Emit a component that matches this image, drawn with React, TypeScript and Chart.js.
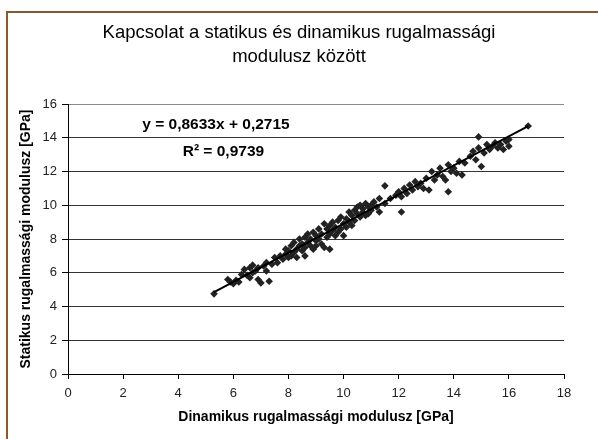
import React, { useEffect, useRef } from "react";
import { Chart, registerables } from "chart.js";

Chart.register(...registerables);

const TITLE_LINES = ["Kapcsolat a statikus és dinamikus rugalmassági", "modulusz között"];
const X_TITLE = "Dinamikus rugalmassági modulusz [GPa]";
const Y_TITLE = "Statikus rugalmassági modulusz [GPa]";
const EQ_TEXT = "y = 0,8633x + 0,2715";
const R2_TEXT = "R² = 0,9739";
const SLOPE = 0.8633;
const INTERCEPT = 0.2715;
const TREND_X = [5.3, 16.7];

const dynX = [
  5.3, 5.8, 5.9, 6.0, 6.1, 6.2, 6.3, 6.4, 6.5, 6.6, 6.6, 6.7, 6.7, 6.8, 6.9, 6.9, 7.0, 7.1, 7.2, 7.2, 7.3, 7.4, 7.5,
  7.6, 7.7, 7.8, 7.9, 7.9, 8.0, 8.0, 8.1, 8.1, 8.2, 8.2, 8.3, 8.3, 8.4, 8.4, 8.5, 8.5, 8.6, 8.6, 8.6, 8.7, 8.7, 8.8, 8.8, 8.9, 8.9, 9.0, 9.0, 9.0, 9.1, 9.1, 9.2, 9.2, 9.3, 9.3, 9.4, 9.4, 9.5, 9.5, 9.5,
  9.6, 9.6, 9.7, 9.7, 9.8, 9.8, 9.9, 9.9, 10.0, 10.0, 10.1, 10.1, 10.2, 10.2, 10.3, 10.3, 10.4, 10.4, 10.5, 10.5, 10.6, 10.6, 10.7, 10.7, 10.8, 10.8, 10.9, 10.9, 11.0, 11.0, 11.1, 11.2, 11.3, 11.3, 11.5,
  11.5, 11.7, 11.9, 12.0, 12.1, 12.1, 12.2, 12.3, 12.4, 12.5, 12.6, 12.7, 12.8, 12.9, 13.0, 13.1, 13.2, 13.3, 13.4, 13.5, 13.6, 13.7, 13.8, 13.8, 13.9, 14.0, 14.1, 14.2, 14.3, 14.4,
  14.6, 14.7, 14.8, 14.9, 14.9, 15.0, 15.1, 15.2, 15.3, 15.4, 15.5, 15.6, 15.7, 15.8, 15.9, 16.0, 16.0, 16.7,
];

const statY = [
  4.75, 5.6, 5.45, 5.35, 5.55, 5.45, 5.9, 6.2, 5.85, 6.3, 5.7, 6.0, 6.45, 6.1, 5.6, 6.3, 5.4, 6.4, 6.1, 6.6, 5.5, 6.5, 6.9,
  6.6, 7.0, 6.8, 7.1, 7.4, 6.9, 7.3, 7.6, 7.0, 7.2, 7.8, 7.4, 6.9, 7.6, 8.0, 7.3, 7.7, 7.5, 8.1, 7.0, 7.8, 8.3, 7.6, 8.0, 7.4, 8.4, 7.9, 8.2, 7.6, 8.6, 8.0, 7.7, 8.3, 8.9, 7.5, 8.1, 8.6, 7.4, 8.8, 8.3,
  8.5, 9.0, 8.2, 8.7, 9.1, 8.4, 8.6, 9.3, 8.9, 8.2, 9.2, 8.7, 9.0, 9.6, 8.8, 9.4, 9.7, 9.1, 9.5, 9.9, 9.3, 10.0, 9.6, 9.8, 10.1, 9.4, 9.9, 9.5, 10.0, 9.7, 10.2, 9.9, 9.6, 10.4, 10.1,
  11.15, 10.4, 10.6, 10.8, 10.5, 9.6, 11.0, 10.7, 11.2, 10.9, 11.4, 11.1, 11.3, 11.0, 11.6, 10.9, 12.0, 11.5, 11.8, 12.2, 11.7, 11.5, 12.4, 10.8, 12.0, 12.2, 11.9, 12.6, 11.8, 12.5,
  12.9, 13.2, 12.7, 13.4, 14.05, 12.3, 13.1, 13.6, 13.3, 13.5, 13.7, 13.4, 13.6, 13.3, 13.8, 13.5, 13.9, 14.7,
];

const X_TICKS = [0, 2, 4, 6, 8, 10, 12, 14, 16, 18];
const Y_TICKS = [0, 2, 4, 6, 8, 10, 12, 14, 16];

const FONT = "'Liberation Sans', Arial, Helvetica, sans-serif";

export default function App() {
  const ref = useRef<HTMLCanvasElement | null>(null);

  useEffect(() => {
    const canvas = ref.current;
    if (!canvas) return;

    const points = dynX.map((x, i) => ({ x, y: statY[i] }));
    const trend = TREND_X.map((x) => ({ x, y: SLOPE * x + INTERCEPT }));

    const equationPlugin = {
      id: "equation",
      afterDraw(chart: any) {
        const { ctx, scales } = chart;
        const sx = scales.x;
        const sy = scales.y;
        ctx.save();
        ctx.fillStyle = "#000";
        ctx.font = `bold 15.5px ${FONT}`;
        ctx.textAlign = "center";
        ctx.textBaseline = "middle";
        ctx.fillText(EQ_TEXT, sx.getPixelForValue(5.37), sy.getPixelForValue(14.76));
        ctx.fillText(R2_TEXT, sx.getPixelForValue(5.64), sy.getPixelForValue(13.16));
        ctx.restore();
      },
    };

    const chart = new Chart(canvas, {
      type: "scatter",
      data: {
        datasets: [
          {
            label: "trend",
            data: trend,
            showLine: true,
            borderColor: "#000",
            borderWidth: 2,
            pointRadius: 0,
            fill: false,
          },
          {
            label: "data",
            data: points,
            pointStyle: "rectRot",
            pointRadius: 3.8,
            backgroundColor: "#222",
            borderColor: "#222",
            borderWidth: 0,
            showLine: false,
          },
        ],
      },
      options: {
        animation: false,
        responsive: false,
        devicePixelRatio: 1,
        layout: { padding: 0 },
        plugins: {
          legend: { display: false },
          tooltip: { enabled: false },
          title: {
            display: true,
            text: TITLE_LINES,
            color: "#000",
            font: { family: FONT, size: 18.5, weight: "normal", lineHeight: "24px" },
            padding: { top: 21, bottom: 35 },
          },
        },
        scales: {
          x: {
            type: "linear",
            min: 0,
            max: 18,
            afterFit(scale: any) {
              scale.height = 65;
            },
            afterBuildTicks(scale: any) {
              scale.ticks = X_TICKS.map((v) => ({ value: v }));
            },
            grid: {
              drawOnChartArea: false,
              drawTicks: true,
              tickLength: 5,
              tickColor: "#000",
            },
            border: { display: true, color: "#000", width: 1 },
            ticks: {
              color: "#222",
              font: { family: FONT, size: 13 },
              padding: 7,
              maxRotation: 0,
            },
            title: {
              display: true,
              text: X_TITLE,
              color: "#000",
              font: { family: FONT, size: 14, weight: "bold" },
              padding: { top: 0, bottom: 13 },
            },
          },
          y: {
            type: "linear",
            position: "left",
            min: 0,
            max: 16,
            afterFit(scale: any) {
              scale.width = 68;
            },
            afterBuildTicks(scale: any) {
              scale.ticks = Y_TICKS.map((v) => ({ value: v }));
            },
            grid: {
              drawOnChartArea: true,
              drawTicks: true,
              tickLength: 6,
              tickColor: "#000",
              color: (c: any) => (c.tick && c.tick.value === 16 ? "#8a8a8a" : "#333"),
              lineWidth: 1,
            },
            border: { display: true, color: "#000", width: 1 },
            ticks: {
              color: "#222",
              font: { family: FONT, size: 13 },
              padding: 5,
            },
            title: {
              display: true,
              text: Y_TITLE,
              color: "#000",
              font: { family: FONT, size: 14, weight: "bold" },
              padding: { top: 18, bottom: 0 },
            },
          },
          yRight: {
            type: "linear",
            position: "right",
            display: true,
            afterFit(scale: any) {
              scale.width = 34;
            },
            grid: { display: false, drawOnChartArea: false, drawTicks: false },
            border: { display: false },
            ticks: { display: false },
          },
        },
      },
      plugins: [equationPlugin],
    });

    return () => chart.destroy();
  }, []);

  return (
    <div
      style={{
        position: "fixed",
        left: 0,
        top: 0,
        width: 598,
        height: 439,
        overflow: "hidden",
        background: "#fff",
      }}
    >
      <canvas
        ref={ref}
        width={598}
        height={439}
        style={{ position: "absolute", left: 0, top: 0, width: 598, height: 439 }}
      />
      <div
        style={{
          position: "absolute",
          left: 6,
          top: 11,
          width: 700,
          height: 600,
          borderLeft: "2px solid #8b5a2b",
          borderTop: "2px solid #8b5a2b",
          pointerEvents: "none",
        }}
      />
    </div>
  );
}
